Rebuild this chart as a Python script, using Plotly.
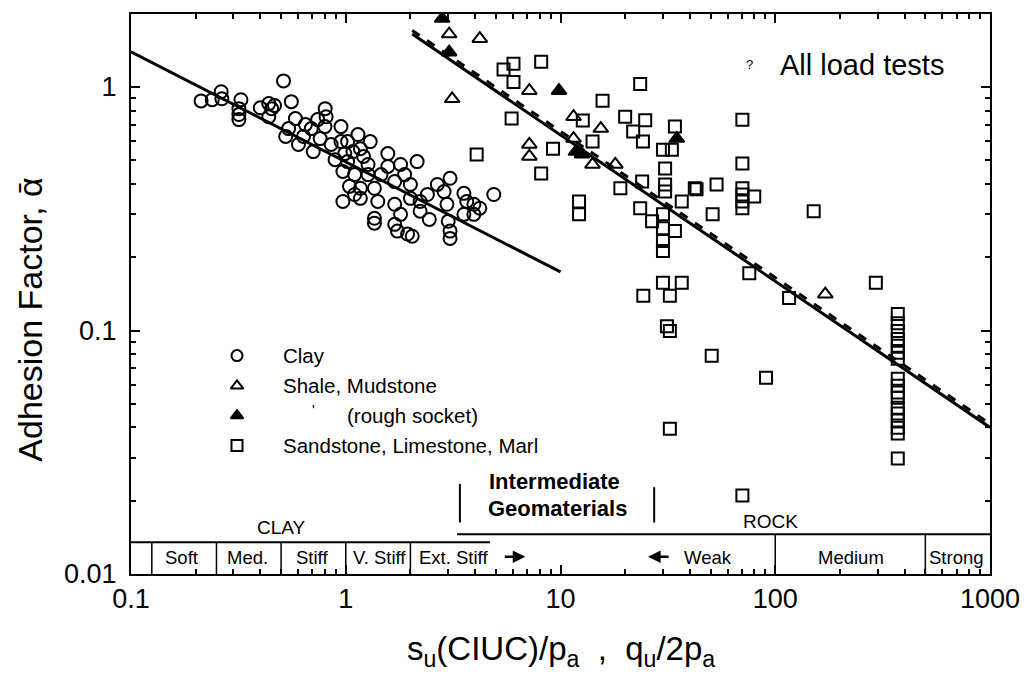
import math
import plotly.graph_objects as go

# ---------------- data ----------------
clay_x = [0.212, 0.239, 0.263, 0.265, 0.325, 0.318, 0.318, 0.318, 0.513, 0.438,
          0.452, 0.438, 0.466, 0.558, 0.583, 0.542, 0.525, 0.602, 0.649, 0.691,
          0.706, 0.802, 0.81, 0.80, 0.76, 0.855, 0.95, 0.95, 0.99, 1.14,
          1.17, 1.02, 0.97, 1.10, 1.27, 1.27, 1.17, 1.10, 0.97, 1.17,
          1.36, 1.41, 1.57, 1.46, 1.69, 1.80, 1.88, 2.15, 2.00, 1.69,
          1.80, 1.36, 1.36, 1.69, 1.74, 1.94, 2.04, 2.22, 2.22, 2.45,
          2.67, 2.87, 3.06, 2.96, 3.0, 3.06, 3.06, 3.55, 3.66, 3.95,
          4.21, 4.89, 3.55, 3.95, 1.02, 1.08, 0.892, 1.21, 1.04, 1.30,
          0.40, 0.636, 0.74, 1.57, 2.0, 2.4]
clay_y = [0.877, 0.887, 0.957, 0.895, 0.887, 0.815, 0.771, 0.735, 1.06, 0.855,
          0.815, 0.755, 0.84, 0.871, 0.742, 0.675, 0.627, 0.581, 0.701, 0.675,
          0.543, 0.815, 0.755, 0.688, 0.614, 0.581, 0.688, 0.597, 0.533, 0.638,
          0.558, 0.494, 0.45, 0.437, 0.481, 0.437, 0.384, 0.362, 0.339, 0.349,
          0.384, 0.339, 0.533, 0.437, 0.409, 0.481, 0.437, 0.494, 0.398, 0.33,
          0.30, 0.289, 0.276, 0.273, 0.256, 0.249, 0.244, 0.339, 0.309, 0.286,
          0.398, 0.372, 0.422, 0.33, 0.281, 0.256, 0.239, 0.366, 0.339, 0.33,
          0.318, 0.362, 0.30, 0.30, 0.597, 0.543, 0.503, 0.519, 0.391, 0.597,
          0.822, 0.627, 0.735, 0.472, 0.349, 0.362]

shale_x = [4.21, 3.13, 7.16, 11.5, 15.4, 7.16, 7.16, 11.5, 14.1, 18.0, 171, 3.03]
shale_y = [1.58, 0.895, 0.966, 0.755, 0.675, 0.581, 0.519, 0.614, 0.481, 0.481, 0.141, 1.65]

rough_x = [2.81, 3.03, 9.84, 11.8, 12.6, 34.8]
rough_y = [1.91, 1.39, 0.966, 0.543, 0.53, 0.614]

sand_x = [6.04, 5.43, 6.04, 8.13, 23.5, 15.7, 5.92, 12.7, 20.0, 24.8,
          21.8, 24.2, 34.1, 30.0, 33.0, 9.23, 4.07, 8.13, 14.1, 30.7,
          19.0, 24.0, 30.7, 30.7, 36.7, 42.2, 53.3, 51.1, 23.5, 26.7,
          30.0, 30.0, 30.0, 30.0, 34.1, 12.2, 12.2, 30.0, 36.7, 24.3,
          32.3, 31.3, 32.3, 50.6, 32.3, 70.3, 70.3, 70.3, 70.3, 70.3,
          70.3, 79.8, 43.0, 151, 75.7, 294, 116, 90.6, 70.3,
          372, 372, 372, 372, 372, 372, 372, 372, 372, 372,
          372, 372, 372, 372, 372, 372, 372]
sand_y = [1.245, 1.18, 1.05, 1.27, 1.03, 0.879, 0.742, 0.728, 0.755, 0.73,
          0.656, 0.597, 0.688, 0.553, 0.553, 0.558, 0.528, 0.442, 0.597, 0.463,
          0.384, 0.409, 0.398, 0.372, 0.339, 0.384, 0.398, 0.30, 0.318, 0.281,
          0.30, 0.263, 0.233, 0.212, 0.256, 0.339, 0.30, 0.157, 0.157, 0.139,
          0.139, 0.104, 0.0995, 0.0787, 0.0395, 0.734, 0.485, 0.384, 0.362, 0.339,
          0.318, 0.355, 0.38, 0.309, 0.172, 0.157, 0.136, 0.064, 0.021,
          0.117, 0.107, 0.0995, 0.0924, 0.0865, 0.081, 0.0765, 0.0634, 0.0593, 0.0556,
          0.053, 0.0482, 0.0456, 0.0427, 0.0399, 0.0378, 0.0298]

clay_fit_x = [0.1, 10]
clay_fit_y = [1.395, 0.174]
rock_fit_x = [2.04, 1000]
rock_fit_y = [1.65, 0.040]

legend_labels = ["Clay", "Shale, Mudstone", "(rough socket)", "Sandstone, Limestone, Marl"]
clay_class_bounds = [0.125, 0.25, 0.5, 1, 2]
clay_class_labels = ["Soft", "Med.", "Stiff", "V. Stiff", "Ext. Stiff"]
clay_class_centers = [0.172, 0.35, 0.70, 1.44, 3.19]
rock_class_bounds = [100, 500]
rock_class_labels = ["Weak", "Medium", "Strong"]
rock_class_centers = [48.4, 225, 697]

FONT = "Liberation Sans, Arial, sans-serif"
BLK = "black"

fig = go.Figure()

mk = dict(color=BLK, size=12, line=dict(color=BLK, width=2))
fig.add_trace(go.Scatter(x=clay_x, y=clay_y, mode="markers",
                         marker=dict(mk, symbol="circle-open", size=13)))
fig.add_trace(go.Scatter(x=shale_x, y=shale_y, mode="markers",
                         marker=dict(mk, symbol="triangle-up-open", size=13)))
fig.add_trace(go.Scatter(x=rough_x, y=rough_y, mode="markers",
                         marker=dict(mk, symbol="triangle-up", size=13)))
fig.add_trace(go.Scatter(x=sand_x, y=sand_y, mode="markers",
                         marker=dict(mk, symbol="square-open", size=12)))

fig.add_trace(go.Scatter(x=clay_fit_x, y=clay_fit_y, mode="lines",
                         line=dict(color=BLK, width=3)))
fig.add_trace(go.Scatter(x=rock_fit_x, y=rock_fit_y, mode="lines",
                         line=dict(color=BLK, width=3)))
fig.add_trace(go.Scatter(x=rock_fit_x, y=[v * 1.035 for v in rock_fit_y], mode="lines",
                         line=dict(color=BLK, width=3, dash="dash")))

# legend key markers on an overlay axis (0..1 of plot area)
leg_sym = ["circle-open", "triangle-up-open", "triangle-up", "square-open"]
leg_y = [0.390, 0.336, 0.283, 0.2295]
for s, yy in zip(leg_sym, leg_y):
    fig.add_trace(go.Scatter(x=[0.1234], y=[yy], mode="markers", xaxis="x2", yaxis="y2",
                             marker=dict(symbol=s, size=11, color=BLK,
                                         line=dict(color=BLK, width=2))))


def A(x, y, text, size, xref="paper", yref="paper", xanchor="center", bold=False, **kw):
    if bold:
        text = "<b>" + text + "</b>"
    d = dict(x=x, y=y, xref=xref, yref=yref, text=text, showarrow=False,
             xanchor=xanchor, yanchor="middle",
             font=dict(size=size, family=FONT, color=BLK))
    d.update(kw)
    return d


ann = []
for lab, yy in zip(legend_labels, leg_y):
    xx = 0.249 if lab.startswith("(") else 0.1742
    ann.append(A(xx, yy, lab, 20.5, xanchor="left"))
ann.append(A(0.2122, 0.294, "'", 15))

ann.append(A(0.851, 0.909, "All load tests", 29))
ann.append(A(0.72, 0.909, "?", 13))

ann.append(A(0.175, 0.0836, "CLAY", 19))
ann.append(A(0.745, 0.0943, "ROCK", 19))
ann.append(A(0.493, 0.1655, "Intermediate", 22, bold=True))
ann.append(A(0.497, 0.1174, "Geomaterials", 22, bold=True))

for lab, c in zip(clay_class_labels, clay_class_centers):
    ann.append(A(math.log10(c), 0.030, lab, 18.5, xref="x"))
for lab, c in zip(rock_class_labels, rock_class_centers):
    ann.append(A(math.log10(c), 0.030, lab, 18.5, xref="x"))
# direction arrows in the strip
ann.append(dict(x=0.459, y=0.031, xref="paper", yref="paper", text="", showarrow=True,
                ax=-22, ay=0, arrowhead=2, arrowsize=1, arrowwidth=2.5, arrowcolor=BLK))
ann.append(dict(x=0.602, y=0.031, xref="paper", yref="paper", text="", showarrow=True,
                ax=22, ay=0, arrowhead=2, arrowsize=1, arrowwidth=2.5, arrowcolor=BLK))

# axis titles
ann.append(A(-0.117, 0.455, "Adhesion Factor, \u1FB1", 34, textangle=-90))
ann.append(A(0.5006, -0.137,
             "s<sub>u</sub>(CIUC)/p<sub>a</sub>  ,  q<sub>u</sub>/2p<sub>a</sub>", 33))

shapes = []
clay_top = 0.0569
rock_top = 0.0712
shapes.append(dict(type="line", xref="x", yref="y domain", x0=0.1, x1=4.7,
                   y0=clay_top, y1=clay_top, line=dict(color=BLK, width=2)))
shapes.append(dict(type="line", xref="x", yref="y domain", x0=3.3, x1=1000,
                   y0=rock_top, y1=rock_top, line=dict(color=BLK, width=2)))
for b in clay_class_bounds:
    shapes.append(dict(type="line", xref="x", yref="y domain", x0=b, x1=b,
                       y0=0, y1=clay_top, line=dict(color=BLK, width=1.5)))
for b in rock_class_bounds:
    shapes.append(dict(type="line", xref="x", yref="y domain", x0=b, x1=b,
                       y0=0, y1=rock_top, line=dict(color=BLK, width=1.5)))
for xv, y0, y1 in [(3.4, 0.092, 0.161), (27.3, 0.092, 0.155)]:
    shapes.append(dict(type="line", xref="x", yref="y domain", x0=xv, x1=xv,
                       y0=y0, y1=y1, line=dict(color=BLK, width=2)))

axis_common = dict(type="log", dtick=1, tick0=0, exponentformat="none",
                   showgrid=False, zeroline=False, showline=True, linecolor=BLK, linewidth=2,
                   mirror="allticks", ticks="inside", ticklen=9, tickwidth=2, tickcolor=BLK,
                   minor=dict(dtick="D1", ticks="inside", ticklen=5, tickwidth=1.5,
                              tickcolor=BLK, showgrid=False),
                   tickfont=dict(size=27, family=FONT, color=BLK))

fig.update_layout(
    width=1032, height=683,
    margin=dict(l=131, r=34, t=12, b=109),
    paper_bgcolor="white", plot_bgcolor="white",
    showlegend=False,
    annotations=ann, shapes=shapes,
    xaxis=dict(axis_common, range=[-1, 3], ticklabelstandoff=0),
    yaxis=dict(axis_common, range=[-2, 0.3], ticklabelstandoff=7),
    xaxis2=dict(overlaying="x", range=[0, 1], visible=False, anchor="y2"),
    yaxis2=dict(overlaying="y", range=[0, 1], visible=False, anchor="x2"),
)

fig.write_html("out.html")
